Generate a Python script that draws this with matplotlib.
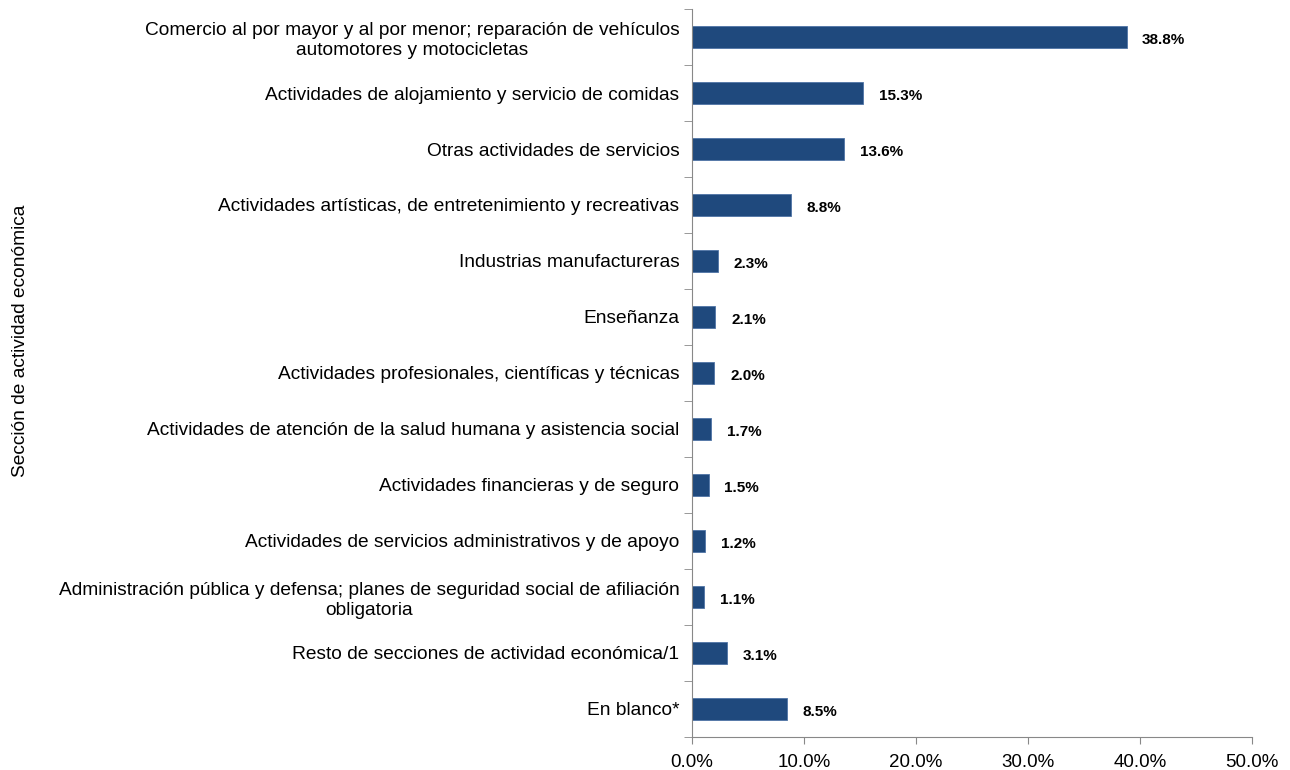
"""Horizontal bar chart: share by economic activity section."""

import matplotlib

matplotlib.use("Agg")
import matplotlib.pyplot as plt
from matplotlib.ticker import FixedLocator, FuncFormatter

categories = [
    "Comercio al por mayor y al por menor; reparación de vehículos\nautomotores y motocicletas",
    "Actividades de alojamiento y servicio de comidas",
    "Otras actividades de servicios",
    "Actividades artísticas, de entretenimiento y recreativas",
    "Industrias manufactureras",
    "Enseñanza",
    "Actividades profesionales, científicas y técnicas",
    "Actividades de atención de la salud humana y asistencia social",
    "Actividades financieras y de seguro",
    "Actividades de servicios administrativos y de apoyo",
    "Administración pública y defensa; planes de seguridad social de afiliación\nobligatoria",
    "Resto de secciones de actividad económica/1",
    "En blanco*",
]
values = [38.8, 15.3, 13.6, 8.8, 2.3, 2.1, 2.0, 1.7, 1.5, 1.2, 1.1, 3.1, 8.5]
x_ticks = [0, 10, 20, 30, 40, 50]

plt.rcParams["font.family"] = ["Liberation Sans", "DejaVu Sans"]

fig = plt.figure(figsize=(12.9, 7.7), dpi=100)
ax = fig.add_axes([0.5364, 0.0429, 0.4341, 0.9454])

n = len(categories)
pos = list(range(n))
ax.barh(pos, values, height=0.4, color="#1F497D", edgecolor="#4F74A6", linewidth=0.6)
for p, v in zip(pos, values):
    ax.text(v + 1.4, p + 0.05, f"{v:.1f}%", va="center", ha="left", fontsize=11, fontweight="bold")

ax.set_ylim(n - 0.5, -0.5)
ax.set_xlim(0, 50)
ax.set_yticks(pos)
ax.set_yticklabels(categories, fontsize=13.8, multialignment="center")
ax.yaxis.set_minor_locator(FixedLocator([i - 0.5 for i in range(n + 1)]))
ax.tick_params(axis="y", which="major", length=0, pad=9)
ax.tick_params(axis="y", which="minor", length=6, color="#888888", direction="out")
ax.set_xticks(x_ticks)
ax.xaxis.set_major_formatter(FuncFormatter(lambda x, _: f"{x:.1f}%"))
ax.tick_params(axis="x", length=5, color="#888888", labelsize=13.5, pad=7)

for side in ["top", "right"]:
    ax.spines[side].set_visible(False)
for side in ["left", "bottom"]:
    ax.spines[side].set_color("#888888")

fig.text(0.016, 0.557, "Sección de actividad económica", rotation=90, va="center", ha="center", fontsize=13.8)

fig.savefig("out.png", dpi=100)
